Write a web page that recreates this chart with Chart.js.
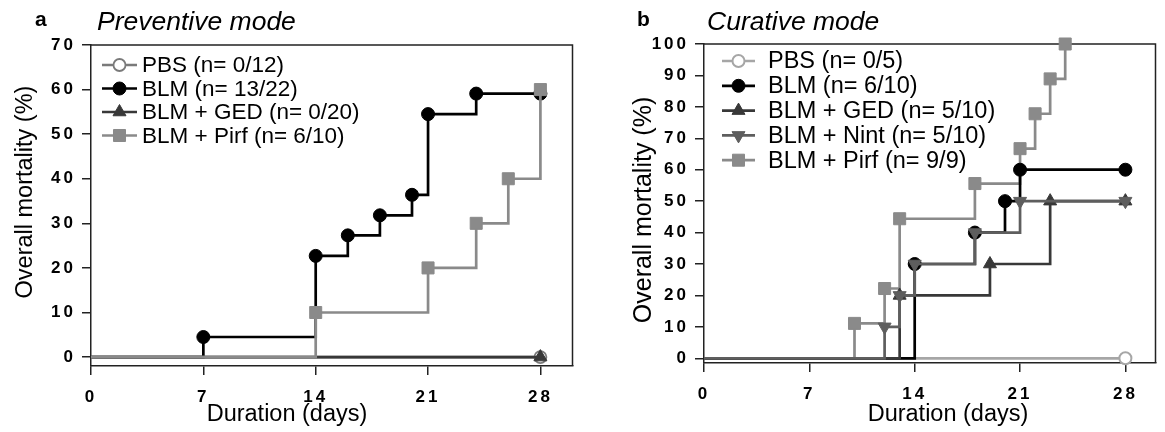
<!DOCTYPE html>
<html lang="en">
<head>
<meta charset="utf-8">
<script src="https://cdn.jsdelivr.net/npm/chart.js@4/dist/chart.umd.min.js"></script>
<style>
  html, body { margin: 0; padding: 0; background: #fff; }
  #wrap { position: relative; width: 1165px; height: 432px; }
  .panel { position: absolute; top: 0; height: 432px; }
  #pa { left: 0; width: 582px; }
  #pb { left: 582px; width: 583px; }
</style>
</head>
<body>
<div id="wrap">
  <div class="panel" id="pa"><canvas id="chartA"></canvas></div>
  <div class="panel" id="pb"><canvas id="chartB"></canvas></div>
</div>

<script>
"use strict";

// ---- data (day of death -> cumulative mortality %) ----
var dayTicks   = [0, 7, 14, 21, 28];
var mortTicksA = [0, 10, 20, 30, 40, 50, 60, 70];
var mortTicksB = [0, 10, 20, 30, 40, 50, 60, 70, 80, 90, 100];

// a : preventive mode
var labelsA = ['PBS (n= 0/12)', 'BLM (n= 13/22)', 'BLM + GED (n= 0/20)', 'BLM + Pirf (n= 6/10)'];
var pbsA_days  = [0, 28];
var pbsA_mort  = [0, 0];
var blmA_days  = [0, 7, 14, 16, 18, 20, 21, 24, 28];
var blmA_mort  = [0, 4.5, 22.7, 27.3, 31.8, 36.4, 54.5, 59.1, 59.1];
var gedA_days  = [0, 28];
var gedA_mort  = [0, 0];
var pirfA_days = [0, 14, 21, 24, 26, 28];
var pirfA_mort = [0, 10, 20, 30, 40, 60];

// b : curative mode
var labelsB = ['PBS (n= 0/5)', 'BLM (n= 6/10)', 'BLM + GED (n= 5/10)', 'BLM + Nint (n= 5/10)', 'BLM + Pirf (n= 9/9)'];
var pbsB_days  = [0, 28];
var pbsB_mort  = [0, 0];
var blmB_days  = [0, 14, 18, 20, 21, 28];
var blmB_mort  = [0, 30, 40, 50, 60, 60];
var gedB_days  = [0, 13, 19, 23, 28];
var gedB_mort  = [0, 20, 30, 50, 50];
var nintB_days = [0, 12, 13, 14, 18, 21, 28];
var nintB_mort = [0, 10, 20, 30, 40, 50, 50];
var pirfB_days = [0, 10, 12, 13, 18, 21, 22, 23, 24];
var pirfB_mort = [0, 11.1, 22.2, 44.4, 55.6, 66.7, 77.8, 88.9, 100];

// ---- styles ----
var FONT = '"Liberation Sans", Arial, sans-serif';
var st = {
  pbsA:  {color: '#7a7a7a', fill: '#ffffff', shape: 'circle',   r: 6,   bw: 1.8},
  pbsB:  {color: '#a6a6a6', fill: '#ffffff', shape: 'circle',   r: 6,   bw: 2},
  blm:   {color: '#000000', fill: '#000000', shape: 'circle',   r: 6.5, bw: 1},
  ged:   {color: '#383838', fill: '#383838', shape: 'triangle', r: 7.5, bw: 1},
  nint:  {color: '#5e5e5e', fill: '#5e5e5e', shape: 'triangle', r: 7.5, bw: 1, rot: 180},
  pirf:  {color: '#8a8a8a', fill: '#8a8a8a', shape: 'rect',     r: 8.5, bw: 1}
};

function series(label, days, mort, s, order) {
  return {
    label: label,
    data: days.map(function(d, i) { return {x: d, y: mort[i]}; }),
    borderColor: s.color,
    borderWidth: 2.7,
    stepped: 'before',
    tension: 0,
    fill: false,
    pointStyle: s.shape,
    pointRotation: s.rot || 0,
    // no marker on the starting point at day 0
    pointRadius: days.map(function(d, i) { return i === 0 ? 0 : s.r; }),
    pointBackgroundColor: s.fill,
    pointBorderColor: s.color,
    pointBorderWidth: s.bw,
    markerR: s.r,
    order: order,
    clip: false
  };
}

// text, frame and legend drawn on top of the chart
var panelDeco = {
  id: 'panelDeco',
  beforeDatasetsDraw: function(chart) {
    var a = chart.chartArea, ctx = chart.ctx;
    ctx.save();
    ctx.strokeStyle = '#222';
    ctx.lineWidth = 1.5;
    ctx.beginPath();
    ctx.moveTo(a.left, a.top);
    ctx.lineTo(a.right, a.top);
    ctx.lineTo(a.right, a.bottom);
    ctx.stroke();
    ctx.restore();
  },
  afterDatasetsDraw: function(chart) {
    // tick labels come after this (ticks.z = 1): spaced digits like the figure
    chart.ctx.letterSpacing = '3px';
  },
  afterDraw: function(chart, args, o) {
    var ctx = chart.ctx;
    ctx.letterSpacing = '0px';
    ctx.save();
    ctx.fillStyle = '#000';
    ctx.textBaseline = 'middle';
    ctx.textAlign = 'left';

    ctx.font = 'bold 21px ' + FONT;
    ctx.fillText(o.letter, o.letterX, 20);
    ctx.font = 'italic 26.5px ' + FONT;
    ctx.fillText(o.title, o.titleX, 23);

    ctx.font = '23.5px ' + FONT;
    ctx.textAlign = 'center';
    ctx.fillText('Duration (days)', o.xTitleX, 415);
    ctx.save();
    ctx.font = o.yTitleFont + 'px ' + FONT;
    ctx.translate(o.yTitleX, o.yTitleY);
    ctx.rotate(-Math.PI / 2);
    ctx.fillText('Overall mortality (%)', 0, 0);
    ctx.restore();

    // legend
    ctx.font = o.legFont + 'px ' + FONT;
    ctx.textAlign = 'left';
    chart.data.datasets.forEach(function(d, i) {
      var y = o.legY + i * o.legStep;
      ctx.strokeStyle = d.borderColor;
      ctx.lineWidth = d.borderWidth;
      ctx.beginPath();
      ctx.moveTo(o.legX, y);
      ctx.lineTo(o.legX + o.legW, y);
      ctx.stroke();
      ctx.fillStyle = d.pointBackgroundColor;
      ctx.strokeStyle = d.pointBorderColor;
      ctx.lineWidth = d.pointBorderWidth;
      Chart.helpers.drawPoint(ctx, {
        pointStyle: d.pointStyle, radius: d.markerR,
        rotation: d.pointRotation, borderWidth: d.pointBorderWidth
      }, o.legX + o.legW / 2, y);
      ctx.fillStyle = '#000';
      ctx.fillText(d.label, o.legTextX, y + 1);
    });
    ctx.restore();
  }
};

function axisTickFont() {
  return {family: FONT, size: 17, weight: 'bold'};
}

function makeChart(id, datasets, yTicks, yMin, yMax, yWidth, pad, deco) {
  return new Chart(document.getElementById(id), {
    type: 'line',
    data: {datasets: datasets},
    plugins: [panelDeco],
    options: {
      responsive: true,
      maintainAspectRatio: false,
      animation: false,
      events: [],
      layout: {padding: pad},
      plugins: {
        legend: {display: false},
        tooltip: {enabled: false},
        panelDeco: deco
      },
      scales: {
        x: {
          type: 'linear', min: 0, max: 30,
          afterBuildTicks: function(s) { s.ticks = dayTicks.map(function(v) { return {value: v}; }); },
          afterFit: function(s) { s.height = 50; },
          grid: {drawOnChartArea: false, drawTicks: true, tickLength: 9, color: '#222', lineWidth: 1.5},
          border: {display: true, color: '#222', width: 1.5},
          ticks: {z: 1, padding: 12, color: '#000', font: axisTickFont(), maxRotation: 0, autoSkip: false}
        },
        y: {
          type: 'linear', min: yMin, max: yMax,
          afterBuildTicks: function(s) { s.ticks = yTicks.map(function(v) { return {value: v}; }); },
          afterFit: function(s) { s.width = yWidth; },
          grid: {drawOnChartArea: false, drawTicks: true, tickLength: 9, color: '#222', lineWidth: 1.5},
          border: {display: true, color: '#222', width: 1.5},
          ticks: {z: 1, padding: 6, color: '#000', font: axisTickFont(), autoSkip: false}
        }
      }
    }
  });
}

// later entries drawn on top (lower order = on top)
makeChart('chartA', [
  series(labelsA[0], pbsA_days,  pbsA_mort,  st.pbsA, 3),
  series(labelsA[1], blmA_days,  blmA_mort,  st.blm,  4),
  series(labelsA[2], gedA_days,  gedA_mort,  st.ged,  2),
  series(labelsA[3], pirfA_days, pirfA_mort, st.pirf, 1)
], mortTicksA, -2, 70, 91, {left: 0, top: 45, right: 6, bottom: 16}, {
  letter: 'a', letterX: 35, title: 'Preventive mode', titleX: 97,
  xTitleX: 287, yTitleX: 26, yTitleY: 192, yTitleFont: 23.5,
  legX: 102, legW: 35, legTextX: 142, legY: 65, legStep: 23.5, legFont: 22.5
});

makeChart('chartB', [
  series(labelsB[0], pbsB_days,  pbsB_mort,  st.pbsB, 5),
  series(labelsB[1], blmB_days,  blmB_mort,  st.blm,  3),
  series(labelsB[2], gedB_days,  gedB_mort,  st.ged,  2),
  series(labelsB[3], nintB_days, nintB_mort, st.nint, 1),
  series(labelsB[4], pirfB_days, pirfB_mort, st.pirf, 4)
], mortTicksB, -1.5, 100, 122, {left: 0, top: 44, right: 6, bottom: 19}, {
  letter: 'b', letterX: 55, title: 'Curative mode', titleX: 125,
  xTitleX: 366, yTitleX: 62, yTitleY: 210, yTitleFont: 25,
  legX: 140, legW: 33, legTextX: 186, legY: 61, legStep: 24.8, legFont: 23.5
});
</script>
</body>
</html>
